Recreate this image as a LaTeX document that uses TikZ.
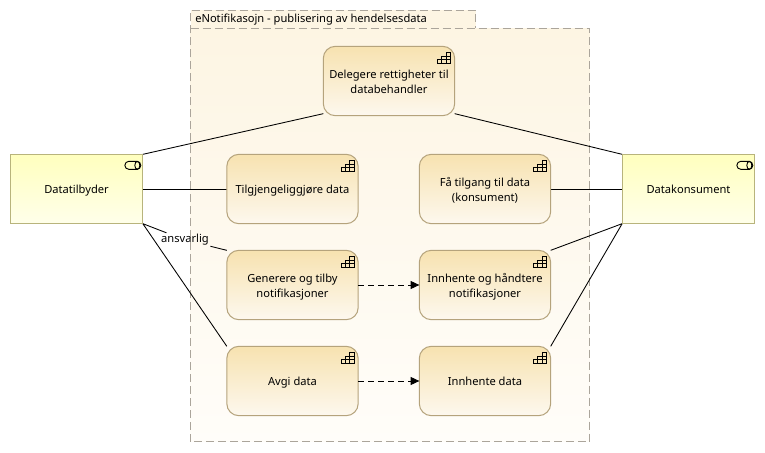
\documentclass[tikz,border=0pt]{standalone}
\usepackage{fontspec}
\setmainfont{Noto Sans}
\usetikzlibrary{arrows.meta}
\pgfdeclarelayer{grp}
\pgfdeclarelayer{edges}
\pgfsetlayers{grp,edges,main}
\definecolor{boxline}{HTML}{B5A37C}
\definecolor{boxtop}{HTML}{F7E2B0}
\definecolor{boxbot}{HTML}{FDF8EE}
\definecolor{actline}{HTML}{B8B47C}
\definecolor{acttop}{HTML}{FFFFBE}
\definecolor{actbot}{HTML}{FFFFEA}
\definecolor{grpline}{HTML}{ABA59B}
\definecolor{grptop}{HTML}{FDF5E3}
\definecolor{grpbot}{HTML}{FFFDF9}
\newcommand\boxtxt[1]{\raisebox{-3.2pt}[0pt][0pt]{\begin{tabular}{@{}c@{}}#1\end{tabular}}}
\tikzset{
  x=0.75pt,y=-0.75pt,
  every node/.style={font=\fontsize{8.35pt}{11.25pt}\selectfont,text=black},
  procbox/.style={draw=boxline,line width=0.75pt,rounded corners=9pt,top color=boxtop,bottom color=boxbot,
    minimum width=98.5pt,minimum height=52pt,inner sep=0pt,outer sep=0pt},
  actorbox/.style={draw=actline,line width=0.75pt,top color=acttop,bottom color=actbot,
    minimum width=99.5pt,minimum height=52pt,inner sep=0pt,outer sep=0pt},
  conn/.style={draw=black,line width=0.65pt},
  depend/.style={draw=black,line width=0.65pt,dash pattern=on 4.5pt off 3pt,-{Triangle[length=6.5pt,width=6pt]}},
  grpborder/.style={draw=grpline,line width=0.75pt,dash pattern=on 6pt off 3pt},
  stairicon/.pic={
    \draw[black,line width=0.7pt]
      (-17,17) -- (-4,17) -- (-4,6) -- (-8.5,6) -- (-8.5,10) -- (-13,10) -- (-13,13.5) -- (-17,13.5) -- cycle
      (-17,13.5) -- (-4,13.5)
      (-13,10) -- (-4,10)
      (-13,13.5) -- (-13,17)
      (-8.5,10) -- (-8.5,17);
  },
  cylicon/.pic={
    \draw[black,line width=0.7pt,rounded corners=3pt] (-18,7) rectangle (-2,15);
    \draw[black,line width=0.7pt] (-5.5,11) ellipse [x radius=2.5,y radius=4];
  },
}
\begin{document}
\begin{tikzpicture}
\useasboundingbox (0,0) rectangle (765,453);
\begin{pgfonlayer}{grp}
  \path[top color=grptop,bottom color=grpbot] (190.5,28.5) rectangle (589.5,441.5);
  \path[fill=grptop] (190.5,10.5) rectangle (475.5,28.5);
  \draw[grpborder] (190.5,441.5) -- (190.5,10.5) -- (475.5,10.5) -- (475.5,28.5);
  \draw[grpborder] (190.5,28.5) -- (589.5,28.5) -- (589.5,441.5) -- (190.5,441.5);
\end{pgfonlayer}
\node[anchor=west,inner sep=0pt] (title) at (195,20) {eNotifikasojn - publisering av hendelsesdata};

\node[procbox] (del) at (389,81) {\boxtxt{Delegere rettigheter til\\databehandler}};
\node[procbox] (tilg) at (292.5,189) {\boxtxt{Tilgjengeliggjøre data}};
\node[procbox] (faa) at (485,189) {\boxtxt{Få tilgang til data\\(konsument)}};
\node[procbox] (gen) at (292.5,285) {\boxtxt{Generere og tilby\\notifikasjoner}};
\node[procbox] (innh) at (485,285) {\boxtxt{Innhente og håndtere\\notifikasjoner}};
\node[procbox] (avgi) at (292.5,381) {\boxtxt{Avgi data}};
\node[procbox] (innd) at (485,381) {\boxtxt{Innhente data}};
\node[actorbox] (dt) at (76.5,189) {\boxtxt{Datatilbyder}};
\node[actorbox] (dk) at (688.5,189) {\boxtxt{Datakonsument}};
\node[inner sep=1pt] (lbl) at (185,240) {ansvarlig};

\foreach \n in {del,tilg,faa,gen,innh,avgi,innd} {\pic at (\n.north east) {stairicon};}
\foreach \n in {dt,dk} {\pic at (\n.north east) {cylicon};}

\begin{pgfonlayer}{edges}
  \draw[conn] (dt.north east) -- ([yshift=1.5pt]del.south west);
  \draw[conn] (dk.north west) -- ([yshift=1.5pt]del.south east);
  \draw[conn] (dt.east) -- (tilg.west);
  \draw[conn] (dk.west) -- (faa.east);
  \draw[conn] (dt.south east) -- (lbl);
  \draw[conn] (lbl) -- (gen.north west);
  \draw[conn] (dt.south east) -- (avgi.north west);
  \draw[conn] (dk.south west) -- (innh.north east);
  \draw[conn] (dk.south west) -- (innd.north east);
\end{pgfonlayer}
\draw[depend] (gen.east) -- (innh.west);
\draw[depend] (avgi.east) -- (innd.west);
\end{tikzpicture}
\end{document}
